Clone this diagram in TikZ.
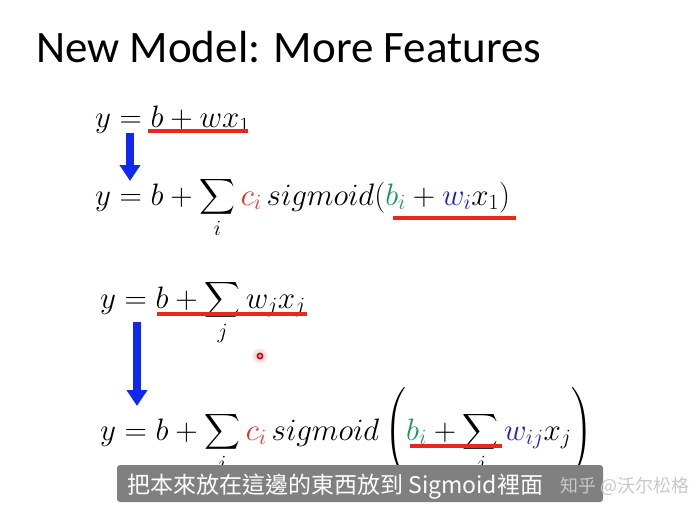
\RequirePackage{fix-cm}
\documentclass[tikz,border=0pt]{standalone}
\usepackage{amsmath}
\usepackage{fontspec}
\setsansfont{Carlito}
\newfontfamily\cjkfont{Noto Sans CJK TC}
\usetikzlibrary{arrows.meta,positioning}
\definecolor{ulred}{RGB}{232, 40, 28}
\definecolor{arrblue}{RGB}{16, 40, 240}
\definecolor{cred}{RGB}{222, 52, 40}
\definecolor{bgreen}{RGB}{30, 150, 90}
\definecolor{wblue}{RGB}{30, 30, 190}
\definecolor{subgray}{RGB}{128, 128, 128}
\definecolor{markgray}{RGB}{200, 200, 200}

\begin{document}
\begin{tikzpicture}[x=1pt,y=-1pt,
  eqn/.style={anchor=base west, inner sep=0pt, font=\fontsize{31}{36}\selectfont},
  underl/.style={ulred, line width=4pt},
  downarrow/.style={arrblue, line width=8pt, -{Triangle[width=20pt,length=16pt]}},
  subtext/.style={anchor=base west, inner sep=0pt, white, font=\cjkfont\fontsize{23}{28}\selectfont}]
\useasboundingbox (0,0) rectangle (693,516);
\fill[white] (0,0) rectangle (693,516);

% Title
\node[anchor=base west, inner sep=0pt, font=\sffamily\fontsize{45}{50}\selectfont] (title) at (36,63) {New Model: More Features};

% Equations
\node[eqn] (eqA) at (95,128) {$y = b + w x_1$};
\node[eqn] (eqB) at (95,205) {$\displaystyle y = b + \sum_i \textcolor{cred}{c_i}\, sigmoid(\textcolor{bgreen}{b_i} + \textcolor{wblue}{w_i} x_1)$};
\node[eqn] (eqC) at (100,308) {$\displaystyle y = b + \sum_j w_j x_j$};
\node[eqn] (eqD) at (100,440) {$\displaystyle y = b + \sum_i \textcolor{cred}{c_i}\, sigmoid\left(\textcolor{bgreen}{b_i} + \sum_j \textcolor{wblue}{w_{ij}} x_j\right)$};

% Underlines
\coordinate (ulA1) at (148,131);
\coordinate (ulA2) at (248,131);
\coordinate (ulB1) at (393,218);
\coordinate (ulB2) at (516,218);
\coordinate (ulC1) at (157,314);
\coordinate (ulC2) at (307,314);
\coordinate (ulD1) at (410,446);
\coordinate (ulD2) at (502,446);
\draw[underl] (ulA1) -- (ulA2);
\draw[underl] (ulB1) -- (ulB2);
\draw[underl] (ulC1) -- (ulC2);
\draw[underl] (ulD1) -- (ulD2);

% Arrows
\coordinate (arA1) at (130,133);
\coordinate (arA2) at (130,181);
\coordinate (arB1) at (137,322);
\coordinate (arB2) at (137,406);
\draw[downarrow] (arA1) -- (arA2);
\draw[downarrow] (arB1) -- (arB2);

% Laser pointer
\fill[red!12] (260,356) circle (7);
\draw[red!80!black, line width=1.6pt, fill=red!30] (260,356) circle (2.6);

% Subtitle and watermark
\fill[subgray, rounded corners=3pt] (117,465) rectangle (603,502);
\node[subtext] (subtitle) at (127,493) {把本來放在這邊的東西放到 Sigmoid裡面};
\node[subtext, markgray, font=\cjkfont\fontsize{18}{22}\selectfont] (watermark) at (560,492) {知乎 @沃尔松格};
\end{tikzpicture}
\end{document}
